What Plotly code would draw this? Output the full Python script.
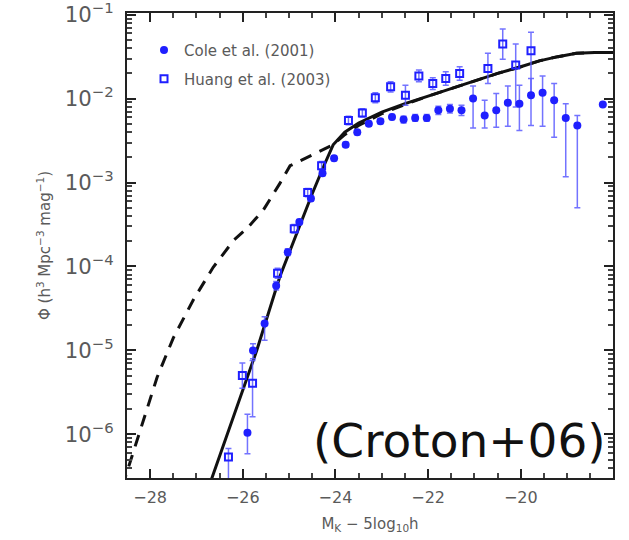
import numpy as np
import plotly.graph_objects as go

# ---- model luminosity functions (log10 phi vs M_K - 5log10 h) ----
model_fb_mag = [-26.75, -26.2, -25.7, -25.2, -24.8, -24.5, -24.25, -24.05, -23.8, -23.5,
                -23.0, -22.5, -22.0, -21.5, -21.0, -20.5, -20.0, -19.6, -19.2, -18.8, -18.4, -18.0]
model_fb_logphi = [-6.65, -5.78, -5.0, -4.12, -3.55, -3.13, -2.8, -2.55, -2.4, -2.29,
                   -2.16, -2.06, -1.97, -1.88, -1.79, -1.70, -1.62, -1.55, -1.50, -1.46, -1.45, -1.45]

model_nofb_mag = [-28.6, -28.22, -27.85, -27.5, -27.07, -26.64, -26.2, -25.9, -25.56, -25.2,
                  -24.98, -24.76, -24.54, -24.3, -24.05, -23.8, -23.5, -23.0, -22.5, -22.0,
                  -21.5, -21.0, -20.5, -20.0, -19.6, -19.2, -18.8, -18.4, -18.0]
model_nofb_logphi = [-6.62, -5.95, -5.32, -4.85, -4.4, -4.01, -3.69, -3.54, -3.33, -3.01,
                     -2.8, -2.74, -2.68, -2.62, -2.55, -2.43, -2.32, -2.18, -2.07, -1.97,
                     -1.88, -1.79, -1.70, -1.62, -1.55, -1.50, -1.46, -1.45, -1.45]

# ---- Cole et al. (2001) ----
cole_mag = [-25.9, -25.78, -25.53, -25.28, -25.03, -24.78, -24.53, -24.28, -24.03, -23.78,
            -23.53, -23.28, -23.03, -22.78, -22.53, -22.28, -22.03, -21.78, -21.53, -21.28,
            -21.03, -20.78, -20.53, -20.28, -20.03, -19.78, -19.53, -19.28, -19.03, -18.78, -18.23]
cole_logphi = [-5.98, -5.0, -4.68, -4.23, -3.83, -3.47, -3.19, -2.89, -2.71, -2.55,
               -2.40, -2.30, -2.27, -2.22, -2.25, -2.23, -2.23, -2.14, -2.12, -2.14,
               -2.00, -2.20, -2.14, -2.05, -2.06, -1.96, -1.93, -2.02, -2.23, -2.32, -2.07]
cole_err_up = [0.22, 0.08, 0.08, 0.05, 0.04, 0.03, 0.03, 0.03, 0.03, 0.03,
               0.03, 0.03, 0.03, 0.03, 0.04, 0.04, 0.04, 0.05, 0.05, 0.06,
               0.15, 0.18, 0.2, 0.2, 0.22, 0.2, 0.2, 0.2, 0.17, 0.12, 0.0]
cole_err_dn = [0.25, 0.1, 0.2, 0.05, 0.04, 0.03, 0.03, 0.03, 0.03, 0.03,
               0.03, 0.03, 0.03, 0.03, 0.04, 0.04, 0.04, 0.05, 0.05, 0.06,
               0.35, 0.15, 0.2, 0.28, 0.32, 0.36, 0.4, 0.44, 0.7, 0.98, 0.0]

# ---- Huang et al. (2003) ----
huang_mag = [-26.31, -26.01, -25.79, -25.25, -24.89, -24.6, -24.3, -23.72, -23.42, -23.14,
             -22.81, -22.49, -22.2, -21.9, -21.62, -21.32, -20.71, -20.39, -20.11, -19.78]
huang_logphi = [-6.27, -5.30, -5.39, -4.08, -3.55, -3.12, -2.80, -2.26, -2.17, -1.99,
                -1.86, -1.96, -1.73, -1.82, -1.76, -1.70, -1.64, -1.35, -1.60, -1.43]
huang_err_up = [0.1, 0.15, 0.27, 0.06, 0.05, 0.05, 0.05, 0.05, 0.05, 0.06,
                0.06, 0.12, 0.07, 0.07, 0.08, 0.08, 0.18, 0.18, 0.25, 0.22]
huang_err_dn = [0.8, 0.15, 0.4, 0.06, 0.05, 0.05, 0.05, 0.05, 0.05, 0.06,
                0.06, 0.12, 0.07, 0.07, 0.08, 0.08, 0.18, 0.18, 0.5, 0.5]


def to_phi(logs):
    return 10.0 ** np.asarray(logs, dtype=float)


def err_arrays(logs, up, dn):
    y = np.asarray(logs, dtype=float)
    hi = 10.0 ** (y + np.asarray(up)) - 10.0 ** y
    lo = 10.0 ** y - 10.0 ** (y - np.asarray(dn))
    return hi, lo


BLUE = "#1f1fff"
ERRBLUE = "rgba(90,90,255,0.85)"
GREY = "#5a5a5a"
FONT = "DejaVu Sans, Liberation Sans, sans-serif"

fig = go.Figure()

fig.add_trace(go.Scatter(
    x=model_nofb_mag, y=to_phi(model_nofb_logphi), mode="lines",
    line=dict(color="#111", width=3, dash="12px,9px"), showlegend=False,
))
fig.add_trace(go.Scatter(
    x=model_fb_mag, y=to_phi(model_fb_logphi), mode="lines",
    line=dict(color="#111", width=3), showlegend=False,
))

hi, lo = err_arrays(huang_logphi, huang_err_up, huang_err_dn)
fig.add_trace(go.Scatter(
    x=huang_mag, y=to_phi(huang_logphi), mode="markers",
    name="Huang et al. (2003)", legend="legend2",
    marker=dict(symbol="square-open", size=7, color=BLUE, line=dict(width=2, color=BLUE)),
    error_y=dict(type="data", symmetric=False, array=hi, arrayminus=lo,
                 color=ERRBLUE, thickness=1.5, width=3),
))

hi, lo = err_arrays(cole_logphi, cole_err_up, cole_err_dn)
fig.add_trace(go.Scatter(
    x=cole_mag, y=to_phi(cole_logphi), mode="markers",
    name="Cole et al. (2001)", legend="legend",
    marker=dict(symbol="circle", size=8, color=BLUE),
    error_y=dict(type="data", symmetric=False, array=hi, arrayminus=lo,
                 color=ERRBLUE, thickness=1.5, width=3),
))

legend_style = dict(xanchor="left", yanchor="middle", bgcolor="rgba(0,0,0,0)",
                    font=dict(family=FONT, size=15, color=GREY), itemwidth=30)

fig.update_layout(
    width=629, height=540,
    margin=dict(l=127, r=16, t=13, b=62),
    paper_bgcolor="white", plot_bgcolor="white",
    font=dict(family=FONT, color=GREY),
    legend=dict(x=0.035, y=0.92, **legend_style),
    legend2=dict(x=0.035, y=0.858, **legend_style),
    showlegend=True,
)

fig.update_xaxes(
    range=[-28.5, -18.01], tickmode="linear", tick0=-28, dtick=2,
    ticks="inside", ticklen=9, tickwidth=1.5, tickcolor="#222",
    minor=dict(dtick=0.5, tick0=-28, ticks="inside", ticklen=5, tickcolor="#444"),
    showline=True, linecolor="#222", linewidth=2, mirror="ticks",
    showgrid=False, zeroline=False, automargin=False,
    tickfont=dict(size=16, color=GREY), ticklabelstandoff=4,
    title=dict(text="M<sub>K</sub> \u2212 5log<sub>10</sub>h", font=dict(size=15, color=GREY), standoff=12),
)

fig.update_yaxes(
    type="log", range=[-6.52, -0.98], dtick=1, exponentformat="power",
    ticks="inside", ticklen=9, tickwidth=1.5, tickcolor="#222",
    minor=dict(dtick="D1", ticks="inside", ticklen=5, tickcolor="#444"),
    showline=True, linecolor="#222", linewidth=2, mirror="ticks",
    showgrid=False, zeroline=False, automargin=False,
    ticklabeloverflow="allow",
    tickfont=dict(size=17, color=GREY), ticklabelstandoff=8,
    title=dict(text="\u03a6 (h<sup>3</sup> Mpc<sup>\u22123</sup> mag<sup>\u22121</sup>)",
               font=dict(size=15, color=GREY), standoff=10),
)

fig.add_annotation(
    text="(Croton+06)", xref="paper", yref="paper",
    x=0.99, y=0.08, xanchor="right", yanchor="middle", showarrow=False,
    font=dict(family="DejaVu Sans, sans-serif", size=47, color="#111"),
)

fig.write_html("out.html")
